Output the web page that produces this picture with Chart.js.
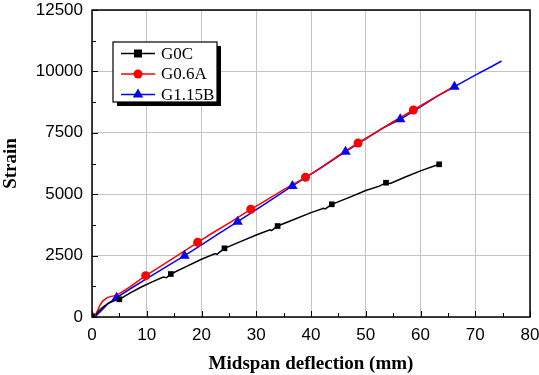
<!DOCTYPE html>
<html>
<head>
<meta charset="utf-8">
<script src="https://cdn.jsdelivr.net/npm/chart.js@4.4.1/dist/chart.umd.min.js"></script>
<style>
  html, body { margin: 0; padding: 0; background: #fff; }
  #wrap { position: relative; width: 539px; height: 375px; }
</style>
</head>
<body>
<div id="wrap"><canvas id="c" width="539" height="375"></canvas></div>
<script>
// tick labels
const xTicks = [0, 10, 20, 30, 40, 50, 60, 70, 80];
const yTicks = [0, 2500, 5000, 7500, 10000, 12500];

// G0C curve (deflection mm, strain)
const g0cX = [0, 0.6, 1.2, 2, 3, 4, 5, 7, 9, 11, 13, 13.6, 14.4, 17, 20, 22.5, 22.8, 24.2, 27, 30, 32.5, 32.8, 33.9, 37, 40, 42.3, 42.6, 43.8, 47, 50, 52.5, 53.7, 54.5, 57, 60, 63.4];
const g0cY = [0, 60, 230, 400, 560, 660, 721, 980, 1220, 1430, 1630, 1600, 1751, 2030, 2350, 2580, 2550, 2797, 3060, 3340, 3550, 3520, 3705, 3980, 4250, 4430, 4400, 4589, 4870, 5150, 5330, 5468, 5440, 5680, 5950, 6217];
const g0cMarkX = [0, 5, 14.4, 24.2, 33.9, 43.8, 53.7, 63.4];
const g0cMarkY = [0, 721, 1751, 2797, 3705, 4589, 5468, 6217];

// G0.6A curve
const g06aX = [0, 0.5, 1, 1.5, 2, 2.7, 3.3, 4, 5, 7, 9.8, 12, 15, 19.3, 22, 25, 29, 32, 35, 39, 42, 45, 48.6, 52, 55, 58.7, 62, 66.6];
const g06aY = [0, 40, 250, 500, 660, 780, 830, 860, 950, 1240, 1682, 1990, 2420, 3042, 3420, 3820, 4385, 4780, 5190, 5688, 6100, 6570, 7085, 7540, 7950, 8428, 8860, 9446];
const g06aMarkX = [0, 9.8, 19.3, 29, 39, 48.6, 58.7];
const g06aMarkY = [0, 1682, 3042, 4385, 5688, 7085, 8428];

// G1.15B curve
const g115bX = [0, 0.5, 1, 2, 3, 4.5, 7, 10, 13, 16.9, 20, 23, 26.6, 30, 33, 36.6, 40, 43, 46.3, 50, 53, 56.3, 60, 63, 66.2, 70, 73, 74.8];
const g115bY = [0, 20, 100, 330, 560, 786, 1150, 1560, 1970, 2496, 2940, 3370, 3880, 4370, 4810, 5334, 5820, 6250, 6730, 7250, 7680, 8050, 8560, 8980, 9377, 9850, 10200, 10423];
const g115bMarkX = [0, 4.5, 16.9, 26.6, 36.6, 46.3, 56.3, 66.2];
const g115bMarkY = [0, 786, 2496, 3880, 5334, 6730, 8050, 9377];

const labels = ['G0C', 'G0.6A', 'G1.15B'];
const colors = ['#000000', '#ff0000', '#0000ff'];
const styles = ['rect', 'circle', 'triangle'];
const radii = [4, 4.5, 6];

const pts = (xs, ys) => xs.map((x, i) => ({ x, y: ys[i] }));

const curves = [[g0cX, g0cY], [g06aX, g06aY], [g115bX, g115bY]];
const marks = [[g0cMarkX, g0cMarkY], [g06aMarkX, g06aMarkY], [g115bMarkX, g115bMarkY]];

const datasets = [];
curves.forEach((c, i) => {
  datasets.push({
    label: labels[i], data: pts(c[0], c[1]), showLine: true,
    borderColor: colors[i], borderWidth: 1.5, pointRadius: 0, order: 2
  });
});
marks.forEach((m, i) => {
  datasets.push({
    label: labels[i] + ' marks', data: pts(m[0], m[1]), showLine: false,
    pointStyle: styles[i], pointRadius: radii[i], backgroundColor: colors[i],
    borderColor: colors[i], borderWidth: 0, order: 1
  });
});

function drawMarker(ctx, style, r, x, y, color) {
  ctx.fillStyle = color;
  ctx.beginPath();
  if (style === 'rect') {
    ctx.rect(x - r, y - r, 2 * r, 2 * r);
  } else if (style === 'circle') {
    ctx.arc(x, y, r, 0, Math.PI * 2);
  } else {
    ctx.moveTo(x, y - r);
    ctx.lineTo(x + r * 0.87, y + r * 0.5);
    ctx.lineTo(x - r * 0.87, y + r * 0.5);
    ctx.closePath();
  }
  ctx.fill();
}

const frameAndLegend = {
  id: 'frameAndLegend',
  afterDraw(chart) {
    const { ctx, chartArea: a, scales: { x, y } } = chart;
    ctx.save();
    ctx.strokeStyle = '#000';
    ctx.lineWidth = 1;
    // inner ticks
    for (let v = 0; v <= 80; v += 5) {
      const px = Math.round(x.getPixelForValue(v)) + 0.5;
      const len = v % 10 ? 4 : 6;
      ctx.beginPath(); ctx.moveTo(px, a.bottom); ctx.lineTo(px, a.bottom - len); ctx.stroke();
    }
    for (let v = 0; v <= 12500; v += 1250) {
      const py = Math.round(y.getPixelForValue(v)) + 0.5;
      const len = v % 2500 ? 4 : 6;
      ctx.beginPath(); ctx.moveTo(a.left, py); ctx.lineTo(a.left + len, py); ctx.stroke();
    }
    // frame
    ctx.lineWidth = 1.5;
    ctx.strokeRect(a.left, a.top, a.right - a.left, a.bottom - a.top);

    // legend box
    const bx = 113, by = 42, bw = 104, bh = 60;
    ctx.fillStyle = '#000';
    ctx.fillRect(bx + 4, by + 4, bw, bh);
    ctx.fillStyle = '#fff';
    ctx.fillRect(bx, by, bw, bh);
    ctx.lineWidth = 1.2;
    ctx.strokeRect(bx, by, bw, bh);
    ctx.font = '17px "Liberation Serif", "Times New Roman", serif';
    ctx.textBaseline = 'middle';
    labels.forEach((lab, i) => {
      const ry = by + 11.5 + i * 20.5;
      ctx.strokeStyle = colors[i];
      ctx.lineWidth = 1.5;
      ctx.beginPath(); ctx.moveTo(bx + 8, ry); ctx.lineTo(bx + 42, ry); ctx.stroke();
      drawMarker(ctx, styles[i], radii[i], bx + 25, ry, colors[i]);
      ctx.fillStyle = '#000';
      ctx.fillText(lab, bx + 48, ry + 1);
    });
    ctx.restore();
  }
};

const tickFont = { family: '"Liberation Sans", Arial, sans-serif', size: 17 };
const titleFont = { family: '"Liberation Serif", "Times New Roman", serif', size: 19, weight: 'bold' };
// light grey grid (the dotted version did not show up in the rendered picture)
const gridOpts = { display: true, color: '#c4c4c4', lineWidth: 1, drawTicks: false };

new Chart(document.getElementById('c'), {
  type: 'scatter',
  data: { datasets },
  plugins: [frameAndLegend],
  options: {
    responsive: false,
    animation: false,
    layout: { padding: { top: 10, right: 9, left: 0, bottom: 0 } },
    plugins: { legend: { display: false }, tooltip: { enabled: false } },
    scales: {
      x: {
        type: 'linear', min: 0, max: 80,
        afterBuildTicks: s => { s.ticks = xTicks.map(v => ({ value: v })); },
        afterFit: s => { s.height = 58; s.paddingLeft = 0; s.paddingRight = 0; },
        grid: gridOpts,
        border: { display: false },
        ticks: { color: '#000', padding: 8, font: tickFont, callback: v => String(v) },
        title: { display: true, text: 'Midspan deflection (mm)', color: '#000', padding: { top: 2, bottom: 0 }, font: titleFont }
      },
      y: {
        type: 'linear', min: 0, max: 12500,
        afterBuildTicks: s => { s.ticks = yTicks.map(v => ({ value: v })); },
        afterFit: s => { s.width = 92; s.paddingTop = 0; s.paddingBottom = 0; },
        grid: gridOpts,
        border: { display: false },
        ticks: { color: '#000', padding: 9, font: tickFont, callback: v => String(v) },
        title: { display: true, text: 'Strain', color: '#000', padding: { top: 0, bottom: 0 }, font: titleFont }
      }
    }
  }
});
</script>
</body>
</html>
